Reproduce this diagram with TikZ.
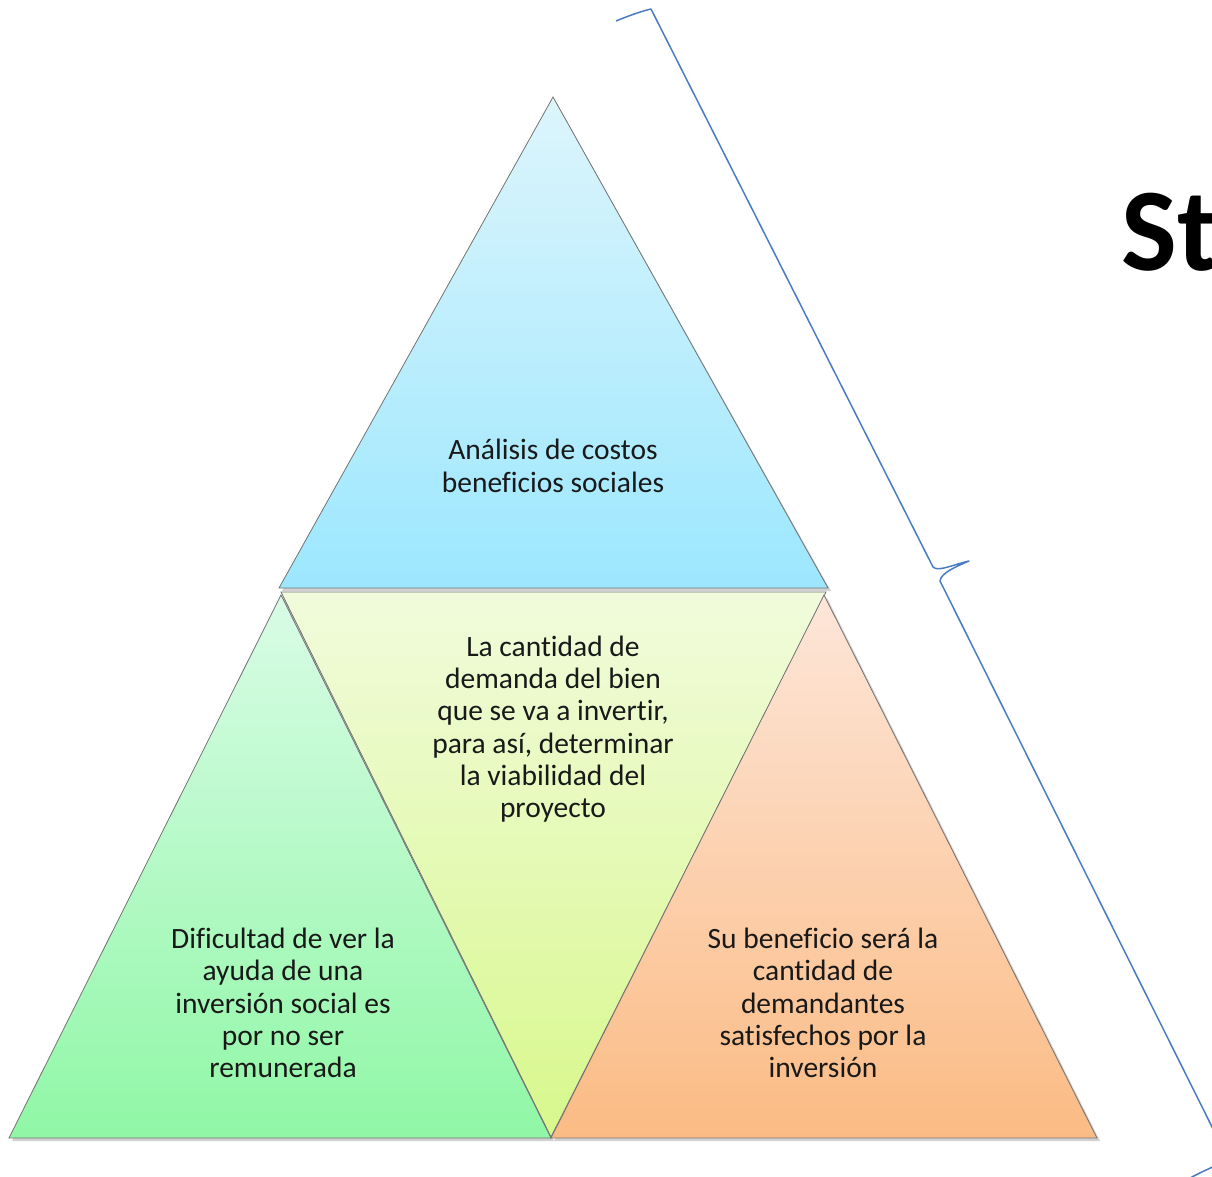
\documentclass[tikz,border=0pt]{standalone}
\usepackage{fontspec}
\setmainfont{Carlito}[Ligatures={NoCommon}]
\begin{document}
\begin{tikzpicture}[x=1pt,y=-1pt,
  tri/.style={draw=black!55, line width=0.8pt},
  shad/.style={fill=black, opacity=0.18, draw=none},
  lbl/.style={align=center, inner sep=0pt, font=\fontsize{29.5}{32.3}\selectfont, text=black!90},
  brace/.style={line width=1.5pt, line join=round}]
\useasboundingbox (0,0) rectangle (1212,1177);
\clip (0,0) rectangle (1212,1177);
\definecolor{topA}{HTML}{DDF5FC}\definecolor{topB}{HTML}{9CE7FE}
\definecolor{midA}{HTML}{F1FBDC}\definecolor{midB}{HTML}{D8F88C}
\definecolor{lefA}{HTML}{D9FCE6}\definecolor{lefB}{HTML}{90F7A6}
\definecolor{rigA}{HTML}{FDE6D9}\definecolor{rigB}{HTML}{FBBB84}
\definecolor{bracec}{HTML}{4A7CC4}
% shadows
\fill[shad] (555,100) -- (831,591) -- (282,591) -- cycle;
\fill[shad] (284,598) -- (554,1141) -- (12,1141) -- cycle;
\fill[shad] (827,598) -- (1100,1141) -- (554,1141) -- cycle;
% top triangle
\path[tri, top color=topA, bottom color=topB] (553,97) -- (828,588) -- (279,588) -- cycle;
% middle inverted triangle
\path[tri, top color=midA, bottom color=midB] (281,592) -- (826,592) -- (551,1137) -- cycle;
% left triangle
\path[tri, top color=lefA, bottom color=lefB] (281,595) -- (551,1138) -- (9,1138) -- cycle;
% right triangle
\path[tri, top color=rigA, bottom color=rigB] (824,595) -- (1097,1138) -- (551,1138) -- cycle;
% labels
\node[lbl] (ttop) at (553,466) {Análisis de costos\\beneficios sociales};
\node[lbl] (tmid) at (553,729) {La cantidad de\\demanda del bien\\que se va a invertir,\\para así, determinar\\la viabilidad del\\proyecto};
\node[lbl] (tlef) at (283,1003) {Dificultad de ver la\\ayuda de una\\inversión social es\\por no ser\\remunerada};
\node[lbl] (trig) at (823,1003) {Su beneficio será la\\cantidad de\\demandantes\\satisfechos por la\\inversión};
% brace
\draw[brace, draw=bracec] (616,21) .. controls (628,16) and (642,11) .. (651,9)
  -- (933,567) .. controls (938,572) and (952,565) .. (969,561)
  .. controls (955,567) and (941,573) .. (940,581)
  -- (1228,1159) .. controls (1218,1165) and (1205,1170) .. (1190,1178);
% title fragment
\node[anchor=base west, inner sep=0pt, font=\fontsize{118}{130}\selectfont\bfseries] (st) at (1121,270) {St};
\end{tikzpicture}
\end{document}
